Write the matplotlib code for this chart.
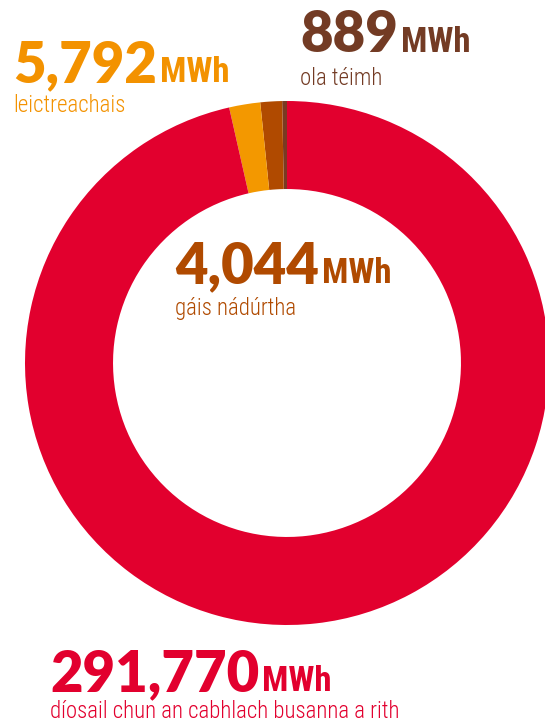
import matplotlib
matplotlib.use("Agg")
import matplotlib.pyplot as plt

# energy used, MWh
labels = ["ola téimh", "gáis nádúrtha", "leictreachais",
          "díosail chun an cabhlach busanna a rith"]
values = [889, 4044, 5792, 291770]
colors = ["#7A3A22", "#B04A00", "#F39800", "#E2002E"]
text_colors = ["#733B24", "#B04A00", "#F39200", "#E2002E"]

W, H = 545, 724
fig = plt.figure(figsize=(W / 100, H / 100), dpi=100)

# donut: centre (287, 363) px, radius 262 px
cx, cy, r = 287, 363, 262
ax = fig.add_axes([(cx - r) / W, (H - cy - r) / H, 2 * r / W, 2 * r / H])
ax.pie(values, colors=colors, startangle=90, counterclock=True,
       wedgeprops=dict(width=0.336, linewidth=0))
ax.set_xlim(-1, 1)
ax.set_ylim(-1, 1)
ax.set_aspect("equal")
ax.axis("off")

num_font = ["Lato", "DejaVu Sans"]
narrow = ["Roboto Condensed", "Roboto", "DejaVu Sans"]

# (x, baseline of number, baseline of label) in pixels
spots = [(300, 52, 85), (175, 283, 315), (13, 82, 112), (50, 691, 718)]

fig.canvas.draw()
renderer = fig.canvas.get_renderer()
for lab, val, col, (x, yb, yl) in zip(labels, values, text_colors, spots):
    t = fig.text(x / W, 1 - yb / H, f"{val:,}", color=col, fontsize=40.5,
                 fontweight="heavy", family=num_font, va="baseline", ha="left")
    bb = t.get_window_extent(renderer)
    fig.text((bb.x1 + 3) / W, 1 - yb / H, "MWh", color=col, fontsize=25,
             fontweight="bold", family=narrow, va="baseline", ha="left")
    fig.text(x / W, 1 - yl / H, lab, color=col, fontsize=16.5,
             fontweight="light", family=narrow, va="baseline", ha="left")

fig.savefig("out.png", dpi=100)
